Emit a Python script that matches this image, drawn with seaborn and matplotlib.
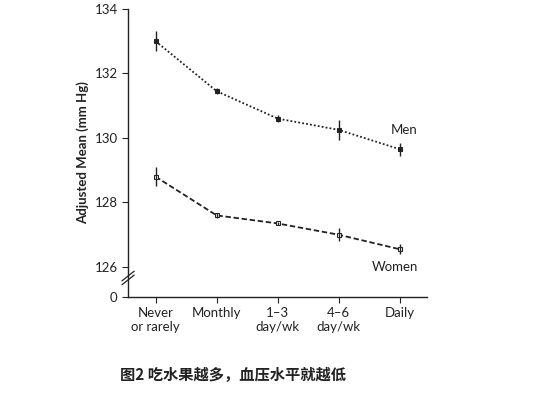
import matplotlib
matplotlib.use("Agg")
import matplotlib.pyplot as plt
import seaborn as sns
import pandas as pd
import numpy as np

categories = ["Never\nor rarely", "Monthly", "1–3\nday/wk", "4–6\nday/wk", "Daily"]
men = [133.0, 131.45, 130.6, 130.25, 129.65]
men_err = [0.3, 0.1, 0.1, 0.3, 0.2]
women = [128.8, 127.6, 127.35, 127.0, 126.55]
women_err = [0.3, 0.08, 0.06, 0.2, 0.15]
yticks = [126, 128, 130, 132, 134]

sns.set_style("white")
plt.rcParams['font.family'] = ['Lato', 'Noto Sans CJK SC', 'DejaVu Sans']

fig = plt.figure(figsize=(5.52, 4.03), dpi=100)
ax = fig.add_axes([0.232, 0.263, 0.542, 0.715])
x = np.arange(len(categories))
df = pd.DataFrame({"x": np.concatenate([x, x]), "y": men + women,
                   "g": ["Men"] * 5 + ["Women"] * 5})
sns.lineplot(data=df[df.g == "Men"], x="x", y="y", ax=ax, color="#222222",
             linestyle=(0, (1, 1.2)), lw=1.3, marker="s", markersize=3.5,
             markerfacecolor="#222222", markeredgecolor="#222222")
sns.lineplot(data=df[df.g == "Women"], x="x", y="y", ax=ax, color="#222222",
             linestyle=(0, (3, 1.5)), lw=1.3, marker="s", markersize=3.5,
             markerfacecolor="white", markeredgecolor="#222222")
ax.errorbar(x, men, yerr=men_err, fmt="none", ecolor="#222222", elinewidth=1, capsize=0)
ax.errorbar(x, women, yerr=women_err, fmt="none", ecolor="#222222", elinewidth=1, capsize=0)

zero_pos = 125.07
ax.set_ylim(zero_pos, 134)
ax.set_xlim(-0.45, 4.45)
ax.set_yticks(yticks + [zero_pos])
ax.set_yticklabels([str(t) for t in yticks] + ["0"])
ax.set_xticks(x)
ax.set_xticklabels(categories)
ax.tick_params(axis="both", direction="out", length=4, color="#222222",
               labelsize=9.5, labelcolor="#222222", left=True, bottom=True)
ax.set_xlabel("")
ax.set_ylabel("Adjusted Mean (mm Hg)", fontsize=9.5, fontweight="bold", color="#222222")
for s in ["top", "right"]:
    ax.spines[s].set_visible(False)
for s in ["left", "bottom"]:
    ax.spines[s].set_color("#222222")
    ax.spines[s].set_linewidth(1)
ax.plot([-0.45, -0.45], [125.56, 125.76], color="white", lw=2.5, clip_on=False)
for dy in (0, 0.12):
    ax.plot([-0.55, -0.35], [125.45 + dy, 125.75 + dy], color="#222222", lw=0.9, clip_on=False)

ax.text(3.85, 130.05, "Men", fontsize=9.5, color="#222222", ha="left", va="bottom")
ax.text(3.55, 126.2, "Women", fontsize=9.5, color="#222222", ha="left", va="top")

fig.text(0.217, 0.07, "图2 吃水果越多，血压水平就越低", fontsize=11, fontweight="bold",
         color="#222222", ha="left", va="center",
         family=['Noto Sans CJK SC', 'DejaVu Sans'])
fig.savefig("out.png", dpi=100)
